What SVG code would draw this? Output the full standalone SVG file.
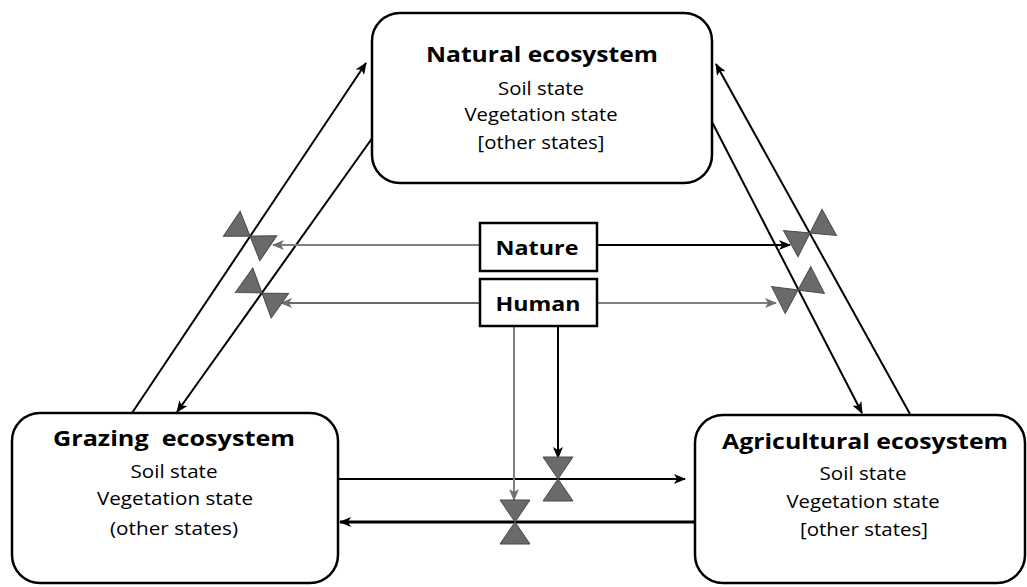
<svg xmlns="http://www.w3.org/2000/svg" width="1027" height="587" viewBox="0 0 1027 587">
<defs>
<style>
.box{fill:#fff;stroke:#000;stroke-width:2.5}
.t{font-family:"Open Sans","Liberation Sans",sans-serif;text-anchor:middle;fill:#000;white-space:pre}
.title{font-size:22px;font-weight:bold}
.body{font-size:18px}
.lbl{font-size:19px;font-weight:bold}
.ln{fill:none;stroke:#000;stroke-width:2}
.gr{fill:none;stroke:#808080;stroke-width:2}
.valve{fill:#6a6a6a;stroke:#4a4a4a;stroke-width:1}
</style>
<marker id="ab" viewBox="0 0 12 10" refX="11" refY="5" markerWidth="12" markerHeight="10" markerUnits="userSpaceOnUse" orient="auto">
<path d="M0,0 L12,5 L0,10 L3,5 z" fill="#000"/>
</marker>
<marker id="ag" viewBox="0 0 12 10" refX="11" refY="5" markerWidth="12" markerHeight="10" markerUnits="userSpaceOnUse" orient="auto">
<path d="M0,0 L12,5 L0,10 L3,5 z" fill="#707070"/>
</marker>
<g id="valveShape">
<path class="valve" d="M-22,-15 L-22,15 L0,0 z M22,-15 L22,15 L0,0 z"/>
</g>
</defs>
<rect width="1027" height="587" fill="#fff"/>

<g id="connectors">
<!-- diagonal flows -->
<line class="ln" x1="132" y1="413" x2="366" y2="63" marker-end="url(#ab)"/>
<line class="ln" x1="373" y1="137" x2="177" y2="412" marker-end="url(#ab)"/>
<line class="ln" x1="712" y1="122" x2="862" y2="413" marker-end="url(#ab)"/>
<line class="ln" x1="910" y1="414" x2="716" y2="64" marker-end="url(#ab)"/>
<!-- horizontal flows -->
<line class="ln" x1="338" y1="479" x2="685" y2="479" marker-end="url(#ab)"/>
<line class="ln" x1="695" y1="522" x2="340" y2="522" stroke-width="3.2" style="stroke-width:3.2" marker-end="url(#ab)"/>
<!-- control arrows -->
<line class="gr" x1="480" y1="245" x2="273" y2="245" marker-end="url(#ag)"/>
<line class="ln" x1="597" y1="245" x2="790" y2="245" marker-end="url(#ab)"/>
<line class="gr" x1="480" y1="303" x2="281" y2="303" stroke="#6a6a6a" style="stroke:#6a6a6a" marker-end="url(#ag)"/>
<line class="gr" x1="597" y1="303" x2="776" y2="303" marker-end="url(#ag)"/>
<line class="gr" x1="514" y1="326" x2="514" y2="500" marker-end="url(#ag)"/>
<line class="ln" x1="558" y1="326" x2="558" y2="458" marker-end="url(#ab)"/>
</g>

<g id="valves">
<use href="#valveShape" transform="translate(250,236) rotate(34)"/>
<use href="#valveShape" transform="translate(262,293) rotate(35.5)"/>
<use href="#valveShape" transform="translate(810,233) rotate(-29)"/>
<use href="#valveShape" transform="translate(798,290) rotate(-27)"/>
<use href="#valveShape" transform="translate(558,479) rotate(90)"/>
<use href="#valveShape" transform="translate(515,522) rotate(90)"/>
</g>

<g id="natural">
<rect class="box" x="372" y="13" width="340" height="170" rx="28"/>
<text class="t title" x="542" y="62" textLength="232" lengthAdjust="spacingAndGlyphs">Natural ecosystem</text>
<text class="t body" x="541" y="95" textLength="86" lengthAdjust="spacingAndGlyphs">Soil state</text>
<text class="t body" x="541" y="121" textLength="153" lengthAdjust="spacingAndGlyphs">Vegetation state</text>
<text class="t body" x="541" y="149" textLength="127" lengthAdjust="spacingAndGlyphs">[other states]</text>
</g>

<g id="grazing">
<rect class="box" x="12" y="413" width="326" height="170" rx="28"/>
<text class="t title" x="174" y="446" textLength="242" lengthAdjust="spacingAndGlyphs">Grazing  ecosystem</text>
<text class="t body" x="174" y="478" textLength="87" lengthAdjust="spacingAndGlyphs">Soil state</text>
<text class="t body" x="175" y="505" textLength="156" lengthAdjust="spacingAndGlyphs">Vegetation state</text>
<text class="t body" x="174" y="535" textLength="128" lengthAdjust="spacingAndGlyphs">(other states)</text>
</g>

<g id="agricultural">
<rect class="box" x="695" y="415" width="330" height="168" rx="28"/>
<text class="t title" x="865" y="449" textLength="286" lengthAdjust="spacingAndGlyphs">Agricultural ecosystem</text>
<text class="t body" x="863" y="480" textLength="87" lengthAdjust="spacingAndGlyphs">Soil state</text>
<text class="t body" x="863" y="508" textLength="153" lengthAdjust="spacingAndGlyphs">Vegetation state</text>
<text class="t body" x="864" y="536" textLength="128" lengthAdjust="spacingAndGlyphs">[other states]</text>
</g>

<g id="nature">
<rect class="box" x="480" y="223" width="117" height="48"/>
<text class="t lbl" x="537" y="255" textLength="83" lengthAdjust="spacingAndGlyphs">Nature</text>
</g>

<g id="human">
<rect class="box" x="480" y="279" width="117" height="47"/>
<text class="t lbl" x="538" y="311" textLength="85" lengthAdjust="spacingAndGlyphs">Human</text>
</g>
</svg>
